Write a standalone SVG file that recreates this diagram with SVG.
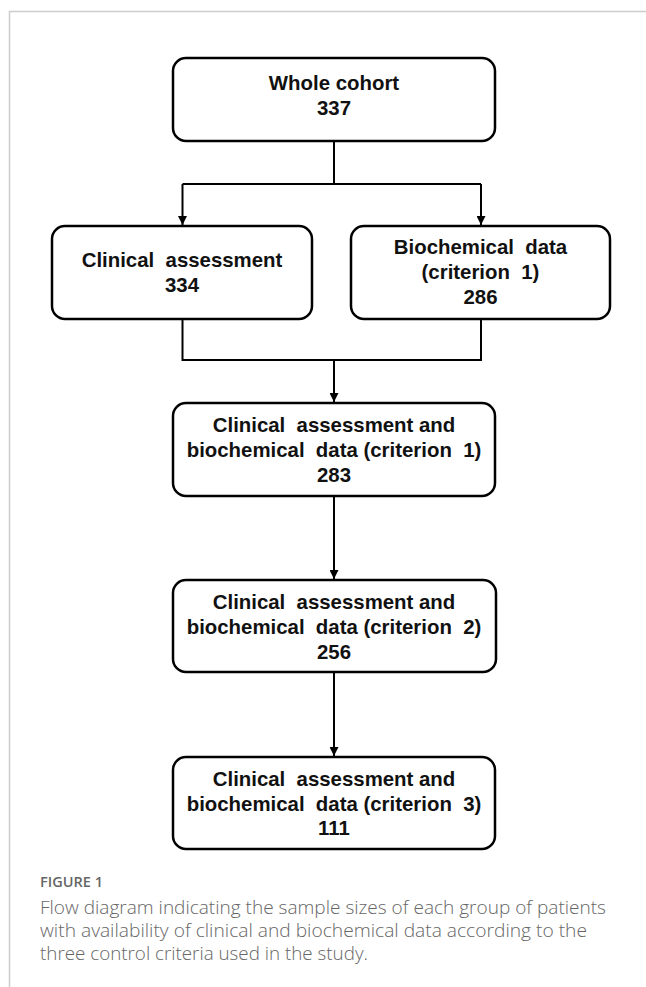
<svg xmlns="http://www.w3.org/2000/svg" width="646" height="987" viewBox="0 0 646 987">
<style>
.box{fill:#fff;stroke:#000;stroke-width:2.5}
.t{font-family:"Liberation Sans",Arial,sans-serif;font-weight:bold;font-size:20.4px;fill:#111;text-anchor:middle;white-space:pre}
.c{fill:none;stroke:#000;stroke-width:2}
.cap{font-family:"Open Sans","Noto Sans",sans-serif;font-weight:300;font-size:18px;fill:#666}
.fig{font-family:"Open Sans","Noto Sans",sans-serif;font-weight:600;font-size:14px;fill:#666}
</style>
<defs>
<marker id="ah" viewBox="0 0 10 10" refX="10" refY="5" markerWidth="4.5" markerHeight="4.5" orient="auto" markerUnits="strokeWidth">
<path d="M0,0 L10,5 L0,10 z" fill="#000"/>
</marker>
</defs>
<rect width="646" height="987" fill="#fff"/>
<path d="M9.5,987 V11.5 H646" fill="none" stroke="#ccc" stroke-width="1.5"/>
<g id="connectors">
<path class="c" d="M334,141 V184 M182.5,184 H481 M182.5,184 V225" marker-end="url(#ah)"/>
<path class="c" d="M481,184 V225" marker-end="url(#ah)"/>
<path class="c" d="M182.5,319 V360 H481 V319"/>
<path class="c" d="M334,360 V402" marker-end="url(#ah)"/>
<path class="c" d="M334,496 V579" marker-end="url(#ah)"/>
<path class="c" d="M334,672 V756" marker-end="url(#ah)"/>
</g>
<g id="n1">
<rect class="box" x="173" y="58" width="322" height="83" rx="13"/>
<text class="t" x="334" y="90">Whole cohort</text>
<text class="t" x="334" y="115">337</text>
</g>
<g id="n2">
<rect class="box" x="52" y="226" width="260" height="93" rx="13"/>
<text class="t" x="182" y="266.5" xml:space="preserve">Clinical  assessment</text>
<text class="t" x="182" y="291.5">334</text>
</g>
<g id="n3">
<rect class="box" x="351" y="226" width="259" height="93" rx="13"/>
<text class="t" x="480.5" y="254" xml:space="preserve">Biochemical  data</text>
<text class="t" x="480.5" y="279" xml:space="preserve">(criterion  1)</text>
<text class="t" x="480.5" y="304">286</text>
</g>
<g id="n4">
<rect class="box" x="173" y="403" width="322" height="93" rx="13"/>
<text class="t" x="334" y="432" xml:space="preserve">Clinical  assessment and</text>
<text class="t" x="334" y="457" xml:space="preserve">biochemical  data (criterion  1)</text>
<text class="t" x="334" y="482">283</text>
</g>
<g id="n5">
<rect class="box" x="173" y="580" width="323" height="92" rx="13"/>
<text class="t" x="334" y="609" xml:space="preserve">Clinical  assessment and</text>
<text class="t" x="334" y="634" xml:space="preserve">biochemical  data (criterion  2)</text>
<text class="t" x="334" y="659">256</text>
</g>
<g id="n6">
<rect class="box" x="173" y="757" width="322" height="92" rx="13"/>
<text class="t" x="334" y="786" xml:space="preserve">Clinical  assessment and</text>
<text class="t" x="334" y="811" xml:space="preserve">biochemical  data (criterion  3)</text>
<text class="t" x="334" y="835">111</text>
</g>
<text class="fig" x="40" y="887" textLength="63" lengthAdjust="spacingAndGlyphs">FIGURE 1</text>
<text class="cap" x="40" y="914" textLength="566" lengthAdjust="spacingAndGlyphs">Flow diagram indicating the sample sizes of each group of patients</text>
<text class="cap" x="40" y="937" textLength="547" lengthAdjust="spacingAndGlyphs">with availability of clinical and biochemical data according to the</text>
<text class="cap" x="40" y="960" textLength="328" lengthAdjust="spacingAndGlyphs">three control criteria used in the study.</text>
</svg>
